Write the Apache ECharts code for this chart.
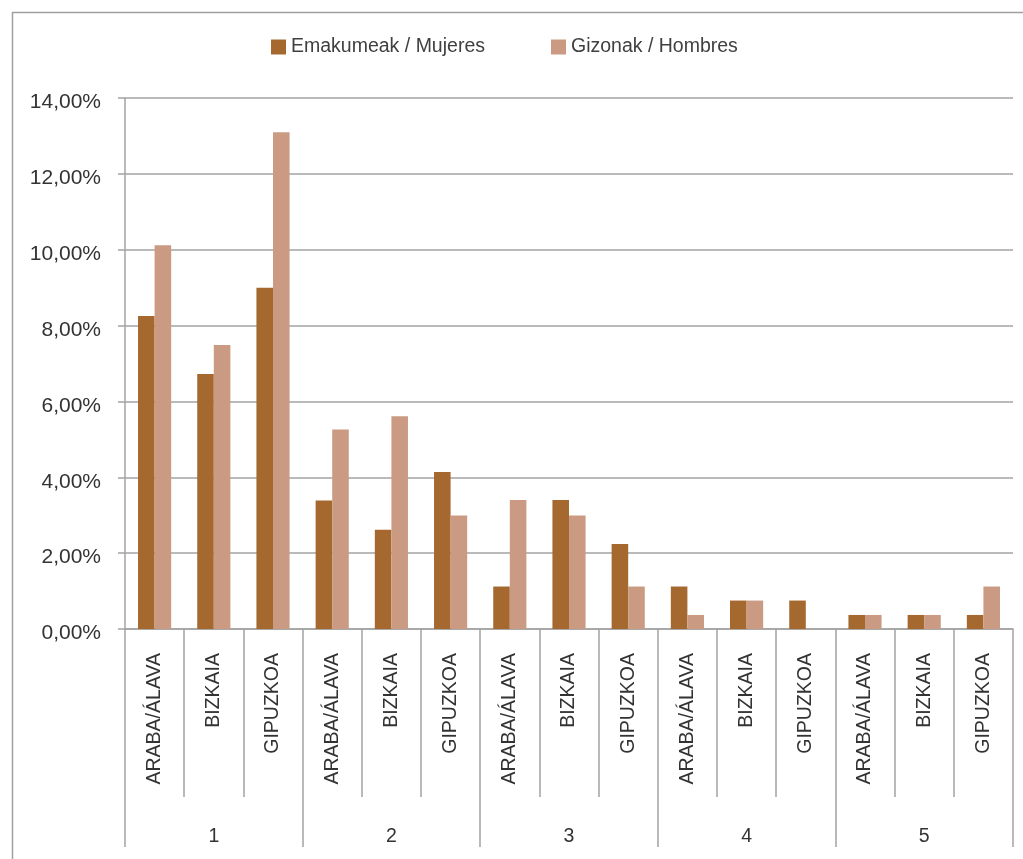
<!DOCTYPE html>
<html>
<head>
<meta charset="utf-8">
<script src="https://cdn.jsdelivr.net/npm/echarts@6/dist/echarts.min.js"></script>
<style>
html,body{margin:0;padding:0;background:#fff;}
#c{width:1023px;height:859px;}
</style>
</head>
<body>
<div id="c"></div>
<script>
var provinces = ['ARABA/ÁLAVA', 'BIZKAIA', 'GIPUZKOA'];
var groups = ['1', '2', '3', '4', '5'];
var seriesNames = ['Emakumeak / Mujeres', 'Gizonak / Hombres'];
var women = [8.25, 6.72, 9.00, 3.39, 2.62, 4.14, 1.12, 3.40, 2.24, 1.12, 0.75, 0.75, 0.37, 0.37, 0.37];
var men = [10.12, 7.49, 13.10, 5.26, 5.61, 2.99, 3.40, 2.99, 1.12, 0.37, 0.75, 0.00, 0.37, 0.37, 1.12];
var yTicks = [0, 2, 4, 6, 8, 10, 12, 14];

var cats = [];
groups.forEach(function (g) {
  provinces.forEach(function (p) { cats.push(g + '|' + p); });
});

var FONT = 'Liberation Sans';
var GRID = '#a3a3a3';
var chart = echarts.init(document.getElementById('c'), null, {renderer: 'canvas'});
chart.setOption({
  animation: false,
  backgroundColor: '#fff',
  textStyle: {fontFamily: FONT},
  graphic: [{
    type: 'rect', left: 10, top: 10, silent: true,
    shape: {x: 0, y: 0, width: 1200, height: 1000},
    style: {fill: 'none', stroke: '#a0a0a0', lineWidth: 1.5}
  }],
  legend: {
    left: 271, top: 37, padding: 0,
    itemWidth: 15, itemHeight: 15, itemGap: 66,
    icon: 'rect',
    textStyle: {fontFamily: FONT, fontSize: 19.5, color: '#404040'},
    data: seriesNames
  },
  grid: {left: 125, right: 10, top: 98, bottom: 230, containLabel: false},
  xAxis: [{
    type: 'category',
    data: cats,
    position: 'bottom',
    boundaryGap: true,
    axisLine: {show: true, lineStyle: {color: GRID, width: 1.5}},
    axisTick: {show: true, interval: 0, length: 168, lineStyle: {color: GRID, width: 1.5}},
    axisLabel: {
      interval: 0, rotate: 90, margin: 24,
      fontFamily: FONT, fontSize: 19.5, color: '#333',
      formatter: function (v) { return v.split('|')[1]; }
    },
    splitLine: {show: false}
  }, {
    type: 'category',
    data: groups,
    position: 'bottom',
    offset: 168,
    boundaryGap: true,
    axisLine: {show: false},
    axisTick: {show: true, interval: 0, length: 50, lineStyle: {color: GRID, width: 1.5}},
    axisLabel: {interval: 0, margin: 30, fontFamily: FONT, fontSize: 19.5, color: '#333'},
    splitLine: {show: false}
  }],
  yAxis: {
    type: 'value',
    min: yTicks[0], max: yTicks[yTicks.length - 1], interval: 2,
    axisLine: {show: true, lineStyle: {color: GRID, width: 1.5}},
    axisTick: {show: true, length: 7, lineStyle: {color: GRID, width: 1.5}},
    axisLabel: {
      margin: 24, fontFamily: FONT, fontSize: 21, color: '#333',
      formatter: function (v) { return '{v|' + v.toFixed(2).replace('.', ',') + '%}'; },
      rich: {v: {fontFamily: FONT, fontSize: 21, color: '#333', padding: [9, 0, 0, 0]}}
    },
    splitLine: {show: true, lineStyle: {color: GRID, width: 1.5}}
  },
  series: [{
    name: seriesNames[0], type: 'bar', xAxisIndex: 0,
    data: women,
    barGap: '0%', barCategoryGap: '44%',
    itemStyle: {color: '#a5692f'}
  }, {
    name: seriesNames[1], type: 'bar', xAxisIndex: 0,
    data: men,
    barGap: '0%', barCategoryGap: '44%',
    itemStyle: {color: '#ca9b82'}
  }]
});
</script>
</body>
</html>
